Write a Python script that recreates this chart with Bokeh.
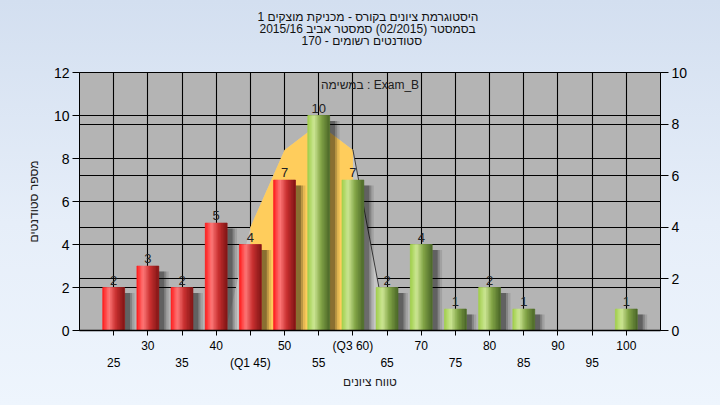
from bokeh.plotting import figure
from bokeh.models import Range1d, LinearAxis, FixedTicker, Grid, Label, Title, ColumnDataSource
from bokeh.core.properties import value
from bokeh.embed import file_html
from bokeh.resources import INLINE

# ---- data -------------------------------------------------------------
grades = [25, 30, 35, 40, 45, 50, 55, 60, 65, 70, 75, 80, 85, 90, 95, 100]
counts = [2, 3, 2, 5, 4, 7, 10, 7, 2, 4, 1, 2, 1, 0, 0, 1]
q1, q3 = 45, 60
pass_mark = 55

# smoothed distribution drawn on the secondary axis
curve_grades = [40, 45, 50, 55, 60, 65]
curve_values = [-1.5, 4.0, 7.0, 8.0, 7.0, 0.0]

left_ticks = [0, 2, 4, 6, 8, 10, 12]
right_ticks = [0, 2, 4, 6, 8, 10]
upper_row = {30: "30", 40: "40", 50: "50", 60: "(Q3 60)", 70: "70", 80: "80", 90: "90", 100: "100"}
lower_row = {25: "25", 35: "35", 45: "(Q1 45)", 55: "55", 65: "65", 75: "75", 85: "85", 95: "95"}

title_lines = [
    "היסטוגרמת ציונים בקורס - מכניקת מוצקים 1",
    "בסמסטר  (02/2015)  סמסטר אביב 2015/16",
    "סטודנטים רשומים - 170",
]
title_offsets = [178, 180, 222]
legend_text = "במשימה : Exam_B"
x_label = "טווח ציונים"
y_label = "מספר סטודנטים"

FONT = "Liberation Sans"

# ---- figure -----------------------------------------------------------
p = figure(width=720, height=405, x_range=Range1d(20, 105), y_range=Range1d(0, 12),
           output_backend="svg", toolbar_location=None, x_axis_location=None,
           min_border_left=79, min_border_right=60, min_border_top=72, min_border_bottom=75)
p.extra_y_ranges = {"right": Range1d(0, 10)}
p.background_fill_color = "#b4b4b4"
p.border_fill_alpha = 0
p.outline_line_color = "black"
p.styles = {"background": "linear-gradient(to bottom, #d3dff0 0%, #e6eef9 55%, #eef5fd 100%)"}
for g in p.grid:
    g.visible = False

grid_style = dict(grid_line_color="black", grid_line_width=1.1, level="underlay")
p.add_layout(Grid(dimension=0, ticker=FixedTicker(ticks=grades), **grid_style))
p.add_layout(Grid(dimension=1, ticker=FixedTicker(ticks=left_ticks), **grid_style))
p.add_layout(Grid(dimension=1, ticker=FixedTicker(ticks=right_ticks), y_range_name="right", **grid_style))

# ---- distribution areas ----------------------------------------------
p.varea(x=curve_grades, y1=0, y2=curve_values, y_range_name="right", fill_color="#c6c6c6")
iq_x = [g for g in curve_grades if q1 <= g <= q3]
iq_y = [v for g, v in zip(curve_grades, curve_values) if q1 <= g <= q3]
p.varea(x=iq_x, y1=0, y2=iq_y, y_range_name="right", fill_color="#ffcd5c")
tail_x = [g for g in curve_grades if g >= q3]
tail_y = [v for g, v in zip(curve_grades, curve_values) if g >= q3]
p.line(x=tail_x, y=tail_y, y_range_name="right", line_color="#3a3a3a", line_width=1)

# ---- bars: soft shadow + cylindrical shading ---------------------------
bar_w = 3.2
shown = [(g, c) for g, c in zip(grades, counts) if c > 0]

for dx, w, a in [(1.25, 3.6, 0.10), (1.05, 3.3, 0.18), (0.9, 3.0, 0.26)]:
    p.vbar(x=[g + dx for g, c in shown], top=[c - 0.25 for g, c in shown], bottom=0,
           width=w, fill_color="black", fill_alpha=a, line_color=None)

red_stops = [(0.0, (255, 24, 24)), (0.3, (255, 122, 122)), (0.62, (200, 48, 48)), (1.0, (128, 22, 22))]
green_stops = [(0.0, (160, 206, 72)), (0.3, (206, 232, 150)), (0.62, (130, 164, 70)), (1.0, (74, 102, 40))]


def shade(stops, t):
    for (t0, c0), (t1, c1) in zip(stops, stops[1:]):
        if t <= t1:
            f = (t - t0) / (t1 - t0)
            return "#%02x%02x%02x" % tuple(int(round(a + (b - a) * f)) for a, b in zip(c0, c1))
    return "#%02x%02x%02x" % stops[-1][1]


# each bar is drawn as a solid base plus overlapping vertical strips
n_strips = 14
dw = bar_w / n_strips
sx, st, sc = [], [], []
for g, c in shown:
    stops = red_stops if g < pass_mark else green_stops
    for k in range(n_strips):
        t = (k + 0.5) / n_strips
        sx.append(g + (t - 0.5) * bar_w)
        st.append(c)
        sc.append(shade(stops, t))
p.vbar(x=[g for g, c in shown], top=[c for g, c in shown], bottom=0, width=bar_w,
       fill_color=[shade(red_stops if g < pass_mark else green_stops, 0.5) for g, c in shown],
       line_color=None)
strips = ColumnDataSource(dict(x=sx, top=st, color=sc))
p.vbar(x="x", top="top", bottom=0, width=dw, source=strips,
       fill_color="color", line_color="color", line_width=0.6)

# value labels
p.text(x=[g for g, c in shown], y=[c for g, c in shown], text=[str(c) for g, c in shown],
       text_align="center", text_baseline="bottom", y_offset=-3,
       text_font=value(FONT), text_font_size="13px", text_color="#222222")

p.add_layout(Label(x=62.5, y=11.4, text=legend_text, text_align="center", text_baseline="middle",
                   text_font=FONT, text_font_size="12px", text_color="#202020"))

# ---- axes -------------------------------------------------------------
ya = p.yaxis[0]
ya.ticker = FixedTicker(ticks=left_ticks)
ya.axis_label = y_label
ya.axis_label_standoff = 10
ya.axis_label_text_font_style = "normal"
ya.axis_label_text_font = FONT
ya.axis_label_text_font_size = "12px"
ya.axis_label_text_color = "#202020"
ya.major_label_text_font = FONT
ya.major_label_text_font_size = "14px"
ya.major_label_text_color = "black"
ya.major_label_standoff = 3
ya.major_tick_out = 7
ya.major_tick_in = 0
ya.minor_tick_out = 0
ya.minor_tick_in = 0
ya.axis_line_color = "black"
ya.major_tick_line_color = "black"

ra = LinearAxis(y_range_name="right", ticker=FixedTicker(ticks=right_ticks),
                major_label_text_font=FONT, major_label_text_font_size="14px",
                major_label_text_color="black", major_label_standoff=3,
                major_tick_out=8, major_tick_in=0, minor_tick_out=0, minor_tick_in=0,
                axis_line_color="black", major_tick_line_color="black")
p.add_layout(ra, "right")

xa1 = LinearAxis(ticker=FixedTicker(ticks=grades),
                 major_label_overrides={g: upper_row.get(g, "") for g in grades},
                 major_label_text_font=FONT, major_label_text_font_size="12px",
                 major_label_text_color="black", major_label_standoff=3,
                 major_tick_out=5, major_tick_in=0, minor_tick_out=0, minor_tick_in=0,
                 axis_line_color="black", axis_line_width=1.5, major_tick_line_color="black")
p.add_layout(xa1, "below")

xa2 = LinearAxis(ticker=FixedTicker(ticks=list(lower_row)),
                 major_label_overrides=lower_row,
                 major_label_text_font=FONT, major_label_text_font_size="12px",
                 major_label_text_color="black", major_label_standoff=0,
                 major_tick_out=0, major_tick_in=0, minor_tick_out=0, minor_tick_in=0,
                 axis_line_color=None, major_tick_line_color=None,
                 axis_label=x_label, axis_label_standoff=2,
                 axis_label_text_font_style="normal", axis_label_text_font=FONT,
                 axis_label_text_font_size="12px", axis_label_text_color="#202020")
p.add_layout(xa2, "below")

# ---- title block (innermost item added first) ---------------------------
p.add_layout(Title(text=" ", text_font_size="12px", standoff=11), "above")
for line, off in reversed(list(zip(title_lines, title_offsets))):
    p.add_layout(Title(text=line, align="left", offset=off, text_font=FONT, text_font_size="12px",
                       text_font_style="normal", text_color="#111111",
                       text_line_height=1.0, standoff=-4), "above")

open("out.html", "w").write(file_html(p, INLINE))
